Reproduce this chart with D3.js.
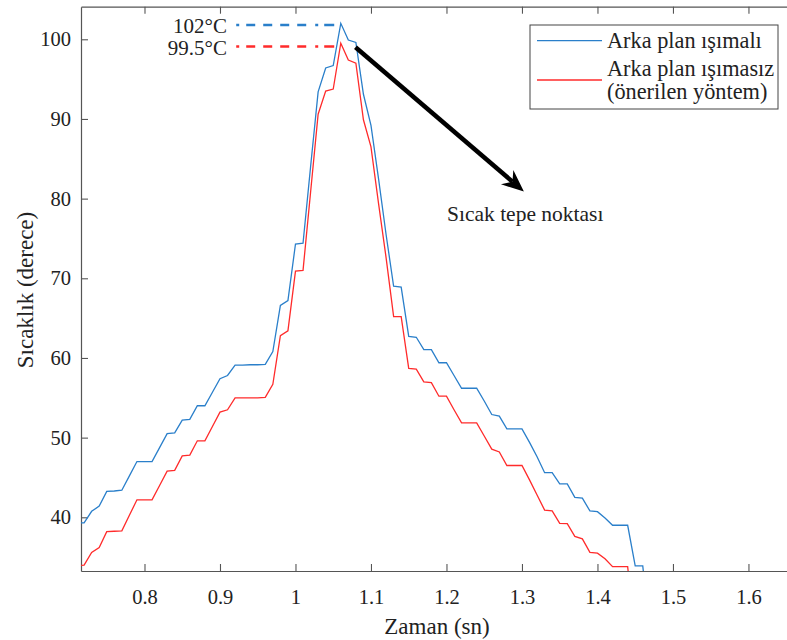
<!DOCTYPE html>
<html>
<head>
<meta charset="utf-8">
<script src="https://cdn.jsdelivr.net/npm/d3@7"></script>
<style>
  html, body { margin: 0; padding: 0; background: #fff; }
  svg { display: block; }
  text { font-family: "Liberation Serif", "Times New Roman", serif; fill: #222; }
</style>
</head>
<body>
<svg id="chart" width="787" height="640"></svg>
<script>
// ---- data ----
const times = [0.71, 0.72, 0.73, 0.74, 0.75, 0.76, 0.77, 0.78, 0.79, 0.80,
  0.81, 0.82, 0.83, 0.84, 0.85, 0.86, 0.87, 0.88, 0.89, 0.90,
  0.91, 0.92, 0.93, 0.94, 0.95, 0.96, 0.97, 0.98, 0.99, 1.00,
  1.01, 1.02, 1.03, 1.04, 1.05, 1.06, 1.07, 1.08, 1.09, 1.10,
  1.11, 1.12, 1.13, 1.14, 1.15, 1.16, 1.17, 1.18, 1.19, 1.20,
  1.21, 1.22, 1.23, 1.24, 1.25, 1.26, 1.27, 1.28, 1.29, 1.30,
  1.31, 1.32, 1.33, 1.34, 1.35, 1.36, 1.37, 1.38, 1.39, 1.40,
  1.41, 1.42, 1.43, 1.44, 1.45, 1.46, 1.47];

const withBackground = [39.3, 39.3, 40.75, 41.4, 43.25, 43.3, 43.4, 45.2, 47.0, 47.0,
  47.0, 48.75, 50.5, 50.6, 52.2, 52.3, 54.0, 54.0, 55.7, 57.4,
  57.8, 59.1, 59.1, 59.15, 59.15, 59.2, 60.8, 66.6, 67.2, 74.3,
  74.4, 84.0, 93.4, 96.4, 96.7, 102.0, 99.9, 99.6, 93.1, 89.2,
  82.5, 75.5, 69.0, 68.9, 62.7, 62.6, 61.05, 61.05, 59.4, 59.4,
  57.8, 56.2, 56.2, 56.2, 54.6, 52.9, 52.7, 51.1, 51.1, 51.1,
  49.4, 47.6, 45.6, 45.6, 44.2, 44.2, 42.5, 42.4, 40.8, 40.7,
  39.9, 39.0, 39.0, 39.0, 33.9, 33.9, 25.0];

const withoutBackground = [33.9, 34.0, 35.6, 36.2, 38.2, 38.25, 38.3, 40.25, 42.2, 42.2,
  42.2, 44.0, 45.8, 45.9, 47.7, 47.8, 49.6, 49.6, 51.4, 53.2,
  53.5, 55.0, 55.0, 55.0, 55.0, 55.05, 56.7, 62.8, 63.4, 70.9,
  71.0, 80.8, 90.6, 93.5, 93.75, 99.5, 97.4, 97.0, 89.9, 86.5,
  79.4, 72.6, 65.2, 65.2, 58.7, 58.6, 57.0, 56.9, 55.2, 55.2,
  53.5, 51.85, 51.85, 51.85, 50.2, 48.55, 48.2, 46.5, 46.5, 46.5,
  44.7, 42.8, 40.9, 40.8, 39.25, 39.2, 37.6, 37.3, 35.6, 35.5,
  34.8, 33.8, 33.8, 33.8, 25.0, 24.0, 23.0];

const seriesNames = ["Arka plan ışımalı", "Arka plan ışımasız", "(önerilen yöntem)"];
const xTicks = [0.8, 0.9, 1.0, 1.1, 1.2, 1.3, 1.4, 1.5, 1.6];
const xTickLabels = ["0.8", "0.9", "1", "1.1", "1.2", "1.3", "1.4", "1.5", "1.6"];
const yTicks = [40, 50, 60, 70, 80, 90, 100];
const peakLabels = ["102°C", "99.5°C"];
const peakLevels = [101.8, 99.1];
const peakLineStart = 0.9215;
const peakLineEnd = 1.0515;
const arrowFrom = [1.0795, 99.0];
const arrowTo = [1.3025, 80.9];
const arrowText = "Sıcak tepe noktası";

// ---- layout ----
const W = 787, H = 640;
const mLeft = 81, mTop = 6.7, mBottom = 571, mRight = 789.6;
const blue = "#2a7fca", red = "#ff2b2b", axisColor = "#555";

const svg = d3.select("#chart");
const x = d3.scaleLinear().domain([0.7159, 1.6545]).range([mLeft, mRight]);
const y = d3.scaleLinear().domain([33.26, 104.09]).range([mBottom, mTop]);

svg.append("defs").append("clipPath").attr("id", "clip")
  .append("rect").attr("x", mLeft).attr("y", mTop)
  .attr("width", mRight - mLeft).attr("height", mBottom - mTop);

// axes
const gx = svg.append("g").attr("transform", `translate(0,${mBottom})`)
  .call(d3.axisBottom(x).tickValues(xTicks).tickFormat((d, i) => xTickLabels[i])
    .tickSizeInner(-7).tickSizeOuter(0).tickPadding(18));
const gxTop = svg.append("g").attr("transform", `translate(0,${mTop})`)
  .call(d3.axisTop(x).tickValues(xTicks).tickFormat("")
    .tickSizeInner(-7).tickSizeOuter(0));
const gy = svg.append("g").attr("transform", `translate(${mLeft},0)`)
  .call(d3.axisLeft(y).tickValues(yTicks).tickSizeInner(-7).tickSizeOuter(0).tickPadding(10));

[gx, gxTop, gy].forEach(g => {
  g.attr("font-family", "Liberation Serif");
  g.select(".domain").attr("stroke", axisColor).attr("stroke-width", 1.2);
  g.selectAll(".tick line").attr("stroke", axisColor).attr("stroke-width", 1.1);
  g.selectAll(".tick text").attr("font-family", "Liberation Serif")
    .attr("font-size", 20.5).attr("fill", "#262626");
});

// axis labels
svg.append("text").attr("x", 437).attr("y", 634).attr("text-anchor", "middle")
  .attr("font-size", 23).text("Zaman (sn)");
svg.append("text").attr("transform", "translate(33,290) rotate(-90)")
  .attr("text-anchor", "middle").attr("font-size", 23).text("Sıcaklık (derece)");

// series
const pts = vals => times.map((t, i) => [t, vals[i]]);
const line = d3.line().x(d => x(d[0])).y(d => y(d[1]));
const plot = svg.append("g").attr("clip-path", "url(#clip)");
plot.append("path").datum(pts(withBackground)).attr("d", line)
  .attr("fill", "none").attr("stroke", blue).attr("stroke-width", 1.3);
plot.append("path").datum(pts(withoutBackground)).attr("d", line)
  .attr("fill", "none").attr("stroke", red).attr("stroke-width", 1.3);

// peak dash-dot markers and labels
const dash = "3,7,9,8,9,8,9,8,9,9,3,6,10,2";
[blue, red].forEach((c, i) => {
  svg.append("line")
    .attr("x1", x(peakLineStart)).attr("x2", x(peakLineEnd))
    .attr("y1", y(peakLevels[i])).attr("y2", y(peakLevels[i]))
    .attr("stroke", c).attr("stroke-width", 2.4).attr("stroke-dasharray", dash);
  svg.append("text").attr("x", 227).attr("y", y(peakLevels[i]) + 8.5)
    .attr("text-anchor", "end").attr("font-size", 21).text(peakLabels[i]);
});

// arrow
const ax0 = x(arrowFrom[0]), ay0 = y(arrowFrom[1]);
const ax1 = x(arrowTo[0]), ay1 = y(arrowTo[1]);
const ddx = ax1 - ax0, ddy = ay1 - ay0, len = Math.hypot(ddx, ddy);
const ux = ddx / len, uy = ddy / len, nx = -uy, ny = ux;
const L = 22, HW = 9.5, notch = 7;
svg.append("line").attr("x1", ax0).attr("y1", ay0)
  .attr("x2", ax1 - (L - notch) * ux).attr("y2", ay1 - (L - notch) * uy)
  .attr("stroke", "#000").attr("stroke-width", 4.5);
const head = [
  [ax1, ay1],
  [ax1 - L * ux + HW * nx, ay1 - L * uy + HW * ny],
  [ax1 - (L - notch) * ux, ay1 - (L - notch) * uy],
  [ax1 - L * ux - HW * nx, ay1 - L * uy - HW * ny]
];
svg.append("path").attr("d", "M" + head.map(p => p.join(",")).join("L") + "Z")
  .attr("fill", "#000");
svg.append("text").attr("x", 447).attr("y", 221).attr("font-size", 21.5).text(arrowText);

// legend
const lg = svg.append("g");
lg.append("rect").attr("x", 530).attr("y", 25).attr("width", 248).attr("height", 84)
  .attr("fill", "#fff").attr("stroke", "#444").attr("stroke-width", 1);
lg.append("line").attr("x1", 537).attr("x2", 602).attr("y1", 40.7).attr("y2", 40.7)
  .attr("stroke", blue).attr("stroke-width", 1.3);
lg.append("line").attr("x1", 537).attr("x2", 602).attr("y1", 80).attr("y2", 80)
  .attr("stroke", red).attr("stroke-width", 1.3);
[48, 76, 99].forEach((yy, i) => {
  lg.append("text").attr("x", 607).attr("y", yy).attr("font-size", 22.3).text(seriesNames[i]);
});
</script>
</body>
</html>
